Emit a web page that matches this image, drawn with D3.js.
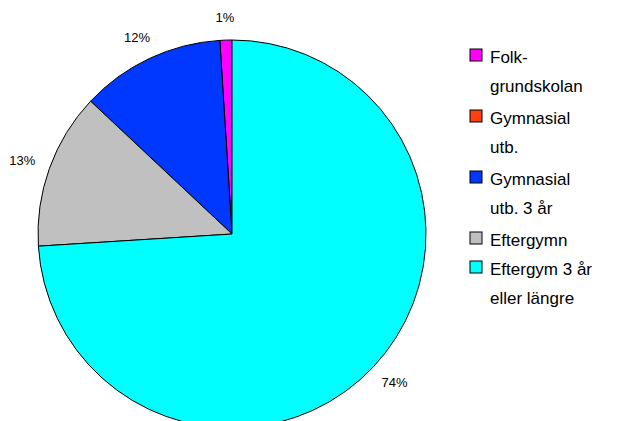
<!DOCTYPE html>
<html>
<head>
<meta charset="utf-8">
<script src="https://cdn.jsdelivr.net/npm/d3@7"></script>
<style>
  html, body { margin: 0; padding: 0; background: #fff; }
  svg { display: block; font-family: "Liberation Sans", Arial, sans-serif; }
</style>
</head>
<body>
<svg id="chart"></svg>
<script>
// Pie of education levels, drawn counter-clockwise from 12 o'clock.
const categories = ["Folk-grundskolan", "Gymnasial utb.", "Gymnasial utb. 3 år", "Eftergymn", "Eftergym 3 år eller längre"];
const legendLines = [["Folk-", "grundskolan"], ["Gymnasial", "utb."], ["Gymnasial", "utb. 3 år"], ["Eftergymn"], ["Eftergym 3 år", "eller längre"]];
const values = [1, 0, 12, 13, 74];
const colors = ["#ff00ff", "#ff4010", "#0038ff", "#c0c0c0", "#00ffff"];

const W = 626, H = 421;
const cx = 232, cy = 234, R = 194;

const svg = d3.select("#chart").attr("width", W).attr("height", H);

const data = categories.map((c, i) => ({ name: c, value: values[i], color: colors[i], lines: legendLines[i] }));

const pie = d3.pie().sort(null).value(d => d.value)
  .startAngle(0).endAngle(-2 * Math.PI);
const arcs = pie(data);
const arc = d3.arc().innerRadius(0).outerRadius(R);

const g = svg.append("g").attr("transform", `translate(${cx},${cy})`);

g.selectAll("path.slice")
  .data(arcs.filter(a => a.data.value > 0))
  .join("path")
  .attr("class", "slice")
  .attr("d", arc)
  .attr("fill", d => d.data.color)
  .attr("stroke", "#000")
  .attr("stroke-width", 1)
  .attr("stroke-linejoin", "round");

// percent labels outside the pie: box pushed out along the mid angle
const labelR = 210, boxW = 26, boxH = 14;
const mid = d => (d.startAngle + d.endAngle) / 2;
g.selectAll("text.pct")
  .data(arcs.filter(a => a.data.value > 0))
  .join("text")
  .attr("class", "pct")
  .attr("x", d => Math.sin(mid(d)) * (labelR + boxW / 2))
  .attr("y", d => -Math.cos(mid(d)) * (labelR + boxH / 2))
  .attr("dy", "0.35em")
  .attr("text-anchor", "middle")
  .attr("font-size", 13)
  .attr("fill", "#000")
  .text(d => d3.format(".0f")(d.data.value) + "%");

// legend
const lx = 470, lineH = 29, itemGap = 3;
let by = 63;
const leg = svg.append("g");
data.forEach(d => {
  leg.append("rect")
    .attr("x", lx).attr("y", by - 14)
    .attr("width", 12).attr("height", 12)
    .attr("fill", d.color)
    .attr("stroke", "#000").attr("stroke-width", 1);
  d.lines.forEach((ln, j) => {
    leg.append("text")
      .attr("x", lx + 20).attr("y", by + j * lineH)
      .attr("font-size", 17)
      .attr("fill", "#000")
      .text(ln);
  });
  by += d.lines.length * lineH + (d.lines.length > 1 ? itemGap : 0);
});
</script>
</body>
</html>
